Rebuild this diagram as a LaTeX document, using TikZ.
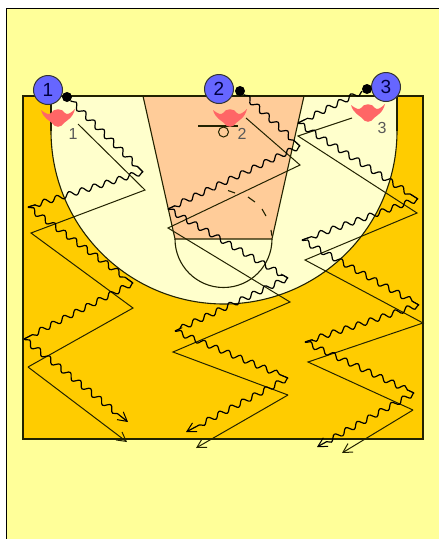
\documentclass[tikz,border=0pt]{standalone}
\usepackage{fontspec}
\setmainfont{Liberation Sans}
\usetikzlibrary{decorations.pathmorphing,arrows.meta,calc}
\definecolor{pagey}{HTML}{FFFF99}
\definecolor{courty}{HTML}{FFCC00}
\definecolor{paint}{HTML}{FFCC99}
\definecolor{lightc}{HTML}{FFFFCC}
\definecolor{playerb}{HTML}{6666FF}
\definecolor{pinkm}{HTML}{FF6666}
\definecolor{inkc}{HTML}{222200}
\tikzset{
  courtline/.style={draw=inkc,line width=1.1pt},
  dribble/.style={draw=black,line width=1.2pt,line join=round,decorate,decoration={snake,amplitude=2.8pt,segment length=13pt,pre length=1pt,post length=5pt}},
  passline/.style={draw=inkc,line width=1pt,line join=miter},
  endtip/.style={-{Straight Barb[length=9pt,width=10pt,line width=1pt]}},
  player/.style={circle,draw=black!80,fill=playerb,line width=1pt,minimum size=29pt,inner sep=0pt,font=\fontsize{19}{19}\selectfont,text=black!75!blue},
  ballmark/.style={circle,fill=black,minimum size=10pt,inner sep=0pt},
  tag/.style={inner sep=0pt,font=\fontsize{16}{16}\selectfont,text=black!65},
  pinkshape/.style={fill=pinkm,draw=none}
}
\newcommand{\pinkat}[2]{\fill[pinkshape,shift={(#1,#2)}] (-17,-6) .. controls (-12,-2) and (-9,-1) .. (-7,-3) .. controls (-4,-8) and (4,-8) .. (7,-3) .. controls (9,-1) and (12,-2) .. (17,-7) .. controls (15,2) and (8,5) .. (6,7) .. controls (3,12) and (-3,12) .. (-6,7) .. controls (-8,5) and (-15,2) .. (-17,-6) -- cycle;}
\begin{document}
\begin{tikzpicture}[x=1pt,y=-1pt]
\useasboundingbox (0,0) rectangle (439,539);
\fill[white] (0,0) rectangle (439,539);
\fill[pagey] (7,9) rectangle (439,539);
\draw[black,line width=1.4pt] (6.5,539) -- (6.5,8.5) -- (439,8.5);
% court
\fill[courty] (23,96) rectangle (423,439);
\fill[lightc] (51,96) -- (51,131) arc[start angle=180,end angle=360,radius=173pt] -- (397,96) -- cycle;
\draw[courtline] (51,96) -- (51,131);
\draw[courtline] (397,131) arc[start angle=0,end angle=-180,radius=173pt];
\draw[courtline] (397,131) -- (397,96);
\fill[paint] (143,96) -- (175,239) -- (272,239) -- (304,96) -- cycle;
\draw[courtline] (143,96) -- (175,239) -- (272,239) -- (304,96);
\draw[courtline] (272,239) arc[start angle=0,end angle=-180,radius=48.5pt];
\draw[courtline] (228,190.5) -- (235,193);
\draw[courtline] (248,197) -- (255,202);
\draw[courtline] (262,209) -- (266,216);
\draw[courtline] (271,230) -- (272,236);
\draw[courtline,line width=1.4pt] (23,96) rectangle (423,439);
% basket
\draw[inkc,line width=1.1pt] (198,126) -- (238,126);
\draw[inkc,line width=1pt] (223.5,132) circle[radius=5pt];
% pink marks
\pinkat{58}{116}
\pinkat{230}{116}
\pinkat{368}{111}
% tags
\node[tag] (t1) at (73,134) {1};
\node[tag] (t2) at (242,134) {2};
\node[tag] (t3) at (382,128) {3};
% players
\node[player] (p1) at (48,90) {1};
\node[player] (p2) at (219,89) {2};
\node[player] (p3) at (386,87) {3};
\node[ballmark] (b1) at (67,97) {};
\node[ballmark] (b2) at (240,91) {};
\node[ballmark] (b3) at (367,89) {};
% route coordinates, player 1
\coordinate (a1) at (143,172); \coordinate (a2) at (28,207); \coordinate (a3) at (133,283);
\coordinate (a4) at (24,339); \coordinate (a5) at (128,422);
\coordinate (c0) at (78,124); \coordinate (c1) at (145,190); \coordinate (c2) at (31,233);
\coordinate (c3) at (133,308); \coordinate (c4) at (28,367); \coordinate (c5) at (127,442);
% player 2
\coordinate (d1) at (300,146); \coordinate (d2) at (168,209); \coordinate (d3) at (288,278);
\coordinate (d4) at (175,331); \coordinate (d5) at (288,378); \coordinate (d6) at (186,432);
\coordinate (e0) at (246,118); \coordinate (e1) at (300,165); \coordinate (e2) at (168,228);
\coordinate (e3) at (290,302); \coordinate (e4) at (173,352); \coordinate (e5) at (288,395); \coordinate (e6) at (196,448);
% player 3
\coordinate (f1) at (298,123); \coordinate (f2) at (418,199); \coordinate (f3) at (302,240);
\coordinate (f4) at (419,305); \coordinate (f5) at (305,342); \coordinate (f6) at (414,393); \coordinate (f7) at (317,447);
\coordinate (g0) at (352,118); \coordinate (g1) at (298,136); \coordinate (g2) at (417,213);
\coordinate (g3) at (305,260); \coordinate (g4) at (423,323); \coordinate (g5) at (308,362);
\coordinate (g6) at (413,410); \coordinate (g7) at (342,453);
% passes
\draw[passline] (c0) -- (c1) -- (c2) -- (c3) -- (c4);
\draw[passline,endtip] (c4) -- (c5);
\draw[passline] (e0) -- (e1) -- (e2) -- (e3) -- (e4) -- (e5);
\draw[passline,endtip] (e5) -- (e6);
\draw[passline] (g0) -- (g1) -- (g2) -- (g3) -- (g4) -- (g5) -- (g6);
\draw[passline,endtip] (g6) -- (g7);
% dribbles
\foreach \s/\t in {b1/a1,a1/a2,a2/a3,a3/a4,b2/d1,d1/d2,d2/d3,d3/d4,d4/d5,b3/f1,f1/f2,f2/f3,f3/f4,f4/f5,f5/f6}{
  \draw[dribble] (\s) -- (\t);
  \draw[black,line width=.8pt] (\t) -- ($(\t)!8pt!(\s)$);
}
\foreach \s/\t in {a4/a5,d5/d6,f6/f7}{
  \draw[dribble,endtip,decoration={post length=10pt}] (\s) -- (\t);
}
\end{tikzpicture}
\end{document}
